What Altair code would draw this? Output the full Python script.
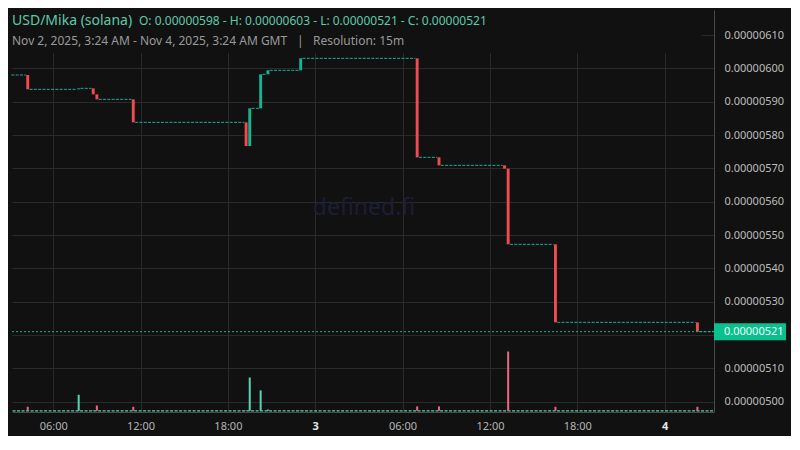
import altair as alt
import pandas as pd

# ---------------- data (prices in USD, hours counted from Nov 2 2025 00:00 GMT) ----------------
candle_hour = [4.25, 7.75, 8.75, 9.0, 11.5, 19.25, 19.5, 20.25, 20.75, 23.0,
               31.0, 32.5, 37.0, 37.25, 40.5, 50.25]
candle_open = [5.980e-6, 5.937e-6, 5.940e-6, 5.922e-6, 5.907e-6, 5.838e-6, 5.767e-6, 5.880e-6,
               5.982e-6, 5.994e-6, 6.030e-6, 5.733e-6, 5.709e-6, 5.699e-6, 5.472e-6, 5.238e-6]
candle_close = [5.937e-6, 5.940e-6, 5.922e-6, 5.907e-6, 5.838e-6, 5.767e-6, 5.880e-6, 5.982e-6,
                5.994e-6, 6.030e-6, 5.733e-6, 5.709e-6, 5.699e-6, 5.472e-6, 5.238e-6, 5.210e-6]
candle_volume = [10, 40, 1, 13, 10, 1, 83, 51, 3, 1, 11, 11, 1, 148, 10, 10]

# runs of unchanged 15m candles (first candle hour, last candle hour, price)
flat_first = [3.25, 4.5, 8.0, 9.25, 11.75, 19.75, 20.5, 21.0, 23.25, 31.25, 32.75, 37.5, 40.75, 50.5]
flat_last = [4.0, 7.5, 8.5, 11.25, 19.0, 20.0, 20.5, 22.75, 30.75, 32.25, 36.75, 40.25, 50.0, 51.25]
flat_price = [5.980e-6, 5.937e-6, 5.940e-6, 5.907e-6, 5.838e-6, 5.880e-6, 5.982e-6, 5.994e-6,
              6.030e-6, 5.733e-6, 5.709e-6, 5.472e-6, 5.238e-6, 5.210e-6]

price_ticks = [5.00e-6, 5.10e-6, 5.20e-6, 5.30e-6, 5.40e-6, 5.50e-6, 5.60e-6,
               5.70e-6, 5.80e-6, 5.90e-6, 6.00e-6, 6.10e-6]
hour_ticks = [6, 12, 18, 24, 30, 36, 42, 48]

pair_title = "USD/Mika (solana)"
ohlc_text = "O: 0.00000598 - H: 0.00000603 - L: 0.00000521 - C: 0.00000521"
range_text = "Nov 2, 2025, 3:24 AM - Nov 4, 2025, 3:24 AM GMT"
resolution_text = "Resolution: 15m"
last_price = 5.21e-6
last_label = "0.00000521"
watermark_text = "defined.fi"

# ---------------- styling ----------------
W, H = 702, 402
BG = "#111111"
GRID = "#2a2a2a"
UP = "#17b491"
DOWN = "#ef4b50"
DASH = "#22ab9b"
VOL_UP = "#5ccfb2"
VOL_DOWN = "#e5677d"
BOX = "#0bbf8e"
FONT = "Noto Sans"
half_slot = 0.125

x_dom = [3.17, 51.39]
y_dom = [4.969e-6, 6.175e-6]
px_price = (y_dom[1] - y_dom[0]) / H

candles = pd.DataFrame({
    "t": candle_hour, "open": candle_open, "close": candle_close, "vol": candle_volume,
})
candles["x0"] = candles["t"] - 0.1
candles["x1"] = candles["t"] + 0.1
candles["v0"] = candles["t"] - 0.07
candles["v1"] = candles["t"] + 0.07
candles["dir"] = ["up" if c >= o else "down" for o, c in zip(candle_open, candle_close)]

flats = pd.DataFrame({"a": flat_first, "b": flat_last, "p": flat_price})
flats["a"] = flats["a"] - half_slot
flats["b"] = flats["b"] + half_slot

x_scale = alt.Scale(domain=x_dom, nice=False, zero=False)
y_scale = alt.Scale(domain=y_dom, nice=False, zero=False)
v_scale = alt.Scale(domain=[-3, 1000], nice=False, zero=False)

x_axis = alt.Axis(
    values=hour_ticks, title=None, grid=True, gridColor=GRID, ticks=False, labelOverlap=False,
    domainColor="#4a4a4a", labelFont=FONT, labelFontSize=11, labelPadding=8,
    labelExpr="datum.value == 24 ? '3' : datum.value == 48 ? '4' : "
              "((datum.value % 24) < 10 ? '0' : '') + (datum.value % 24) + ':00'",
    labelColor=alt.condition("datum.value == 24 || datum.value == 48", alt.value("#e6e6e6"), alt.value("#b4b4b4")),
    labelFontWeight=alt.condition("datum.value == 24 || datum.value == 48", alt.value("bold"), alt.value("normal")),
)
y_axis = alt.Axis(
    orient="right", values=price_ticks, format=".8f", title=None, grid=True, gridColor=GRID,
    ticks=False, domainColor="#4a4a4a", labelFont=FONT, labelFontSize=11, labelColor="#bdbdbd",
    labelPadding=10, labelAlign="left", labelOverlap=False,
    labelExpr="abs(datum.value - 0.0000052) < 1e-9 ? '' : datum.label",
)

color_scale = alt.Scale(domain=["up", "down"], range=[UP, DOWN])
vcolor_scale = alt.Scale(domain=["up", "down"], range=[VOL_UP, VOL_DOWN])

flat_layer = alt.Chart(flats).mark_rule(color=DASH, strokeWidth=1, strokeDash=[3, 1.3]).encode(
    x=alt.X("a:Q", scale=x_scale, axis=x_axis),
    x2="b:Q",
    y=alt.Y("p:Q", scale=y_scale, axis=y_axis),
)
body_layer = alt.Chart(candles).mark_rect().encode(
    x=alt.X("x0:Q", scale=x_scale, axis=x_axis),
    x2="x1:Q",
    y=alt.Y("open:Q", scale=y_scale, axis=y_axis),
    y2="close:Q",
    color=alt.Color("dir:N", scale=color_scale, legend=None),
)
last_df = pd.DataFrame({"p": [last_price], "label": [last_label]})
last_line = alt.Chart(last_df).mark_rule(color=UP, strokeWidth=1, strokeDash=[2, 2]).encode(
    y=alt.Y("p:Q", scale=y_scale, axis=y_axis), x=alt.value(0), x2=alt.value(W),
)
box = alt.Chart(last_df).mark_rect(color=BOX).encode(
    x=alt.value(W), x2=alt.value(W + 72),
    y=alt.datum(last_price + 8.5 * px_price, scale=y_scale, axis=y_axis, type="quantitative"),
    y2=alt.datum(last_price - 8.5 * px_price),
)
box_text = alt.Chart(last_df).mark_text(align="left", baseline="middle", font=FONT, fontSize=11,
                                        color="#eafff8").encode(
    x=alt.value(W + 10), y=alt.Y("p:Q", scale=y_scale, axis=y_axis), text="label:N",
)
price = alt.layer(flat_layer, body_layer, last_line, box, box_text)

vol_bars = alt.Chart(candles).mark_rect().encode(
    x=alt.X("v0:Q", scale=x_scale, axis=x_axis),
    x2="v1:Q",
    y=alt.Y("vol:Q", scale=v_scale, axis=None),
    y2=alt.datum(0),
    color=alt.Color("dir:N", scale=vcolor_scale, legend=None),
)
vol_base = alt.Chart(pd.DataFrame({"a": [x_dom[0] + 0.04], "b": [x_dom[1]], "v": [0]})).mark_rule(
    color=VOL_UP, strokeWidth=1.2, strokeDash=[3, 1.5]).encode(
    x=alt.X("a:Q", scale=x_scale, axis=x_axis), x2="b:Q",
    y=alt.Y("v:Q", scale=v_scale, axis=None),
)
volume = alt.layer(vol_base, vol_bars)

watermark = alt.Chart(pd.DataFrame({"s": [watermark_text]})).mark_text(
    font=FONT, fontSize=23, color="#1d1d36", align="center", baseline="alphabetic").encode(
    x=alt.value(352), y=alt.value(205), text="s:N")

header_bg = alt.Chart(pd.DataFrame({"s": [1]})).mark_rect(color=BG).encode(
    x=alt.value(0), x2=alt.value(690), y=alt.value(0), y2=alt.value(43))

def txt(s, x, y, size, color, **kw):
    return alt.Chart(pd.DataFrame({"s": [s]})).mark_text(
        font=FONT, fontSize=size, color=color, align="left", baseline="alphabetic", **kw).encode(
        x=alt.value(x), y=alt.value(y), text="s:N")

t1 = txt(pair_title, 0, 15, 14, "#5ccbab")
t2 = txt(ohlc_text, 127, 15, 12, "#5ccbab")
t3 = txt(range_text, 0, 35, 12, "#9a9a9a")
t4 = txt("|", 285, 35, 12, "#9a9a9a")
t5 = txt(resolution_text, 301, 35, 12, "#9a9a9a")

chart = alt.layer(watermark, header_bg, volume, price, t1, t2, t3, t4, t5).resolve_scale(
    y="independent", color="independent"
).properties(
    width=W, height=H, background=BG,
    padding={"left": 2, "top": 2, "right": 5, "bottom": 5},
).configure_view(stroke=None)

chart.save("out.html", embed_options={"renderer": "svg", "actions": False})
